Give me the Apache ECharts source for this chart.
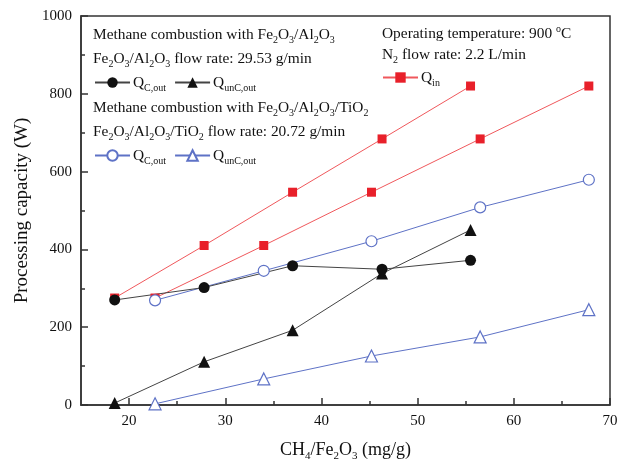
<!DOCTYPE html>
<html>
<head>
<meta charset="utf-8">
<script src="https://cdn.jsdelivr.net/npm/echarts@6/dist/echarts.min.js"></script>
<style>
html,body{margin:0;padding:0;background:#fff;}
#c{width:617px;height:462px;}
</style>
</head>
<body>
<div id="c"></div>
<script>
// ---- data ----
var xA = [18.5, 27.8, 37.0, 46.3, 55.5];       // Fe2O3/Al2O3
var xB = [22.7, 34.0, 45.2, 56.5, 67.8];       // Fe2O3/Al2O3/TiO2
var qinA = [275, 410, 547, 684, 820];
var qinB = [275, 410, 547, 684, 820];
var qcA = [270, 302, 358, 349, 372];
var quA = [5, 111, 192, 338, 450];
var qcB = [269, 345, 421, 508, 579];
var quB = [3, 67, 126, 175, 245];
var xMajor = [20, 30, 40, 50, 60, 70];
var xMinor = [25, 35, 45, 55, 65];

function pairs(xs, ys){ return xs.map(function(x,i){ return [x, ys[i]]; }); }

var FONT = '"Liberation Serif", "Times New Roman", serif';
var RED = '#e8202a', REDLINE = '#f0585c', BLUE = '#5e72c6', BLK = '#111', BLKLINE = '#444';

var subRich = {
  n: {fontFamily: FONT, fontSize: 15.4, color: '#111', lineHeight: 18},
  s: {fontFamily: FONT, fontSize: 10, color: '#111', padding: [11,0,0,0], lineHeight: 12},
  u: {fontFamily: FONT, fontSize: 10, color: '#111', padding: [0,0,10,0], lineHeight: 12}
};

var legendNames = {
  qcA: '{n|Q}{s|C,out}', quA: '{n|Q}{s|unC,out}',
  qcB: '{n|Q}{s|C,out}', quB: '{n|Q}{s|unC,out}',
  qin: '{n|Q}{s|in}'
};

function mkLegend(names, left, top){
  return {
    data: names, left: left, top: top, orient: 'horizontal',
    itemWidth: 35, itemHeight: 13, itemGap: 8, padding: 0,
    selectedMode: false,
    formatter: function(n){ return legendNames[n]; },
    textStyle: {rich: subRich, fontFamily: FONT, fontSize: 15, color: '#111', padding: [0,0,0,-2]}
  };
}

function txt(x, y, s){
  return {type: 'text', left: x, top: y, z: 100,
    style: {text: s, rich: subRich, fontFamily: FONT, fontSize: 15, fill: '#111'}};
}

var chart = echarts.init(document.getElementById('c'), null, {renderer: 'canvas'});
chart.setOption({
  animation: false,
  backgroundColor: '#fff',
  grid: {left: 81, right: 7, top: 16, bottom: 57, show: true, borderColor: '#333', borderWidth: 1.5,
         backgroundColor: 'transparent', outerBoundsMode: 'none', containLabel: false},
  legend: [
    mkLegend(['qcA','quA'], 94, 72),
    mkLegend(['qcB','quB'], 94, 145),
    mkLegend(['qin'], 382, 67)
  ],
  graphic: [
    txt(93, 24, '{n|Methane combustion with Fe}{s|2}{n|O}{s|3}{n|/Al}{s|2}{n|O}{s|3}'),
    txt(93, 48, '{n|Fe}{s|2}{n|O}{s|3}{n|/Al}{s|2}{n|O}{s|3}{n| flow rate: 29.53 g/min}'),
    txt(93, 97, '{n|Methane combustion with Fe}{s|2}{n|O}{s|3}{n|/Al}{s|2}{n|O}{s|3}{n|/TiO}{s|2}'),
    txt(93, 121, '{n|Fe}{s|2}{n|O}{s|3}{n|/Al}{s|2}{n|O}{s|3}{n|/TiO}{s|2}{n| flow rate: 20.72 g/min}'),
    txt(382, 24, '{n|Operating temperature: 900 }{u|o}{n|C}'),
    txt(382, 44, '{n|N}{s|2}{n| flow rate: 2.2 L/min}')
  ],
  xAxis: [{
    type: 'value', min: 15, max: 70,
    name: '{n|CH}{s|4}{n|/Fe}{s|2}{n|O}{s|3}{n| (mg/g)}',
    nameLocation: 'middle', nameGap: 34,
    nameTextStyle: {rich: {
      n: {fontFamily: FONT, fontSize: 18, color: '#111', lineHeight: 22},
      s: {fontFamily: FONT, fontSize: 11, color: '#111', padding: [12,0,0,0], lineHeight: 12}
    }},
    axisLine: {show: true, onZero: false, lineStyle: {color: '#333', width: 1.5}},
    axisTick: {show: true, inside: true, length: 7, customValues: xMajor, lineStyle: {color: '#333', width: 1.5}},
    axisLabel: {customValues: xMajor, margin: 9, fontFamily: FONT, fontSize: 15, color: '#111'},
    splitLine: {show: false}
  }, {
    type: 'value', min: 15, max: 70, position: 'bottom',
    axisLine: {show: false},
    axisTick: {show: true, inside: true, length: 4, customValues: xMinor, lineStyle: {color: '#333', width: 1.5}},
    axisLabel: {show: false},
    splitLine: {show: false}
  }],
  yAxis: [{
    type: 'value', min: 0, max: 1000, interval: 200,
    name: 'Processing capacity (W)', nameLocation: 'middle', nameGap: 49,
    nameTextStyle: {fontFamily: FONT, fontSize: 19, color: '#111'},
    axisLine: {show: true, lineStyle: {color: '#333', width: 1.5}},
    axisTick: {show: true, inside: true, length: 7, lineStyle: {color: '#333', width: 1.5}},
    axisLabel: {margin: 9, fontFamily: FONT, fontSize: 15, color: '#111',
                formatter: function(v){ return String(v); }},
    splitLine: {show: false}
  }, {
    type: 'value', min: 0, max: 1000, interval: 100, position: 'left',
    axisLine: {show: false},
    axisTick: {show: true, inside: true, length: 4, lineStyle: {color: '#333', width: 1.5}},
    axisLabel: {show: false},
    splitLine: {show: false}
  }],
  series: [
    {name: 'qin', type: 'line', data: pairs(xA, qinA), symbol: 'rect', symbolSize: 9,
     itemStyle: {color: RED}, lineStyle: {color: REDLINE, width: 1}},
    {name: 'qin', type: 'line', data: pairs(xB, qinB), symbol: 'rect', symbolSize: 9,
     itemStyle: {color: RED}, lineStyle: {color: REDLINE, width: 1}},
    {name: 'quB', type: 'line', data: pairs(xB, quB), symbol: 'triangle', symbolSize: 12,
     itemStyle: {color: '#fff', borderColor: BLUE, borderWidth: 1.2}, lineStyle: {color: BLUE, width: 1}},
    {name: 'qcB', type: 'line', data: pairs(xB, qcB), symbol: 'circle', symbolSize: 11,
     itemStyle: {color: '#fff', borderColor: BLUE, borderWidth: 1.2}, lineStyle: {color: BLUE, width: 1}},
    {name: 'quA', type: 'line', data: pairs(xA, quA), symbol: 'triangle', symbolSize: 12,
     itemStyle: {color: BLK}, lineStyle: {color: BLKLINE, width: 1}},
    {name: 'qcA', type: 'line', data: pairs(xA, qcA), symbol: 'circle', symbolSize: 11,
     itemStyle: {color: BLK}, lineStyle: {color: BLKLINE, width: 1}}
  ]
});
</script>
</body>
</html>
